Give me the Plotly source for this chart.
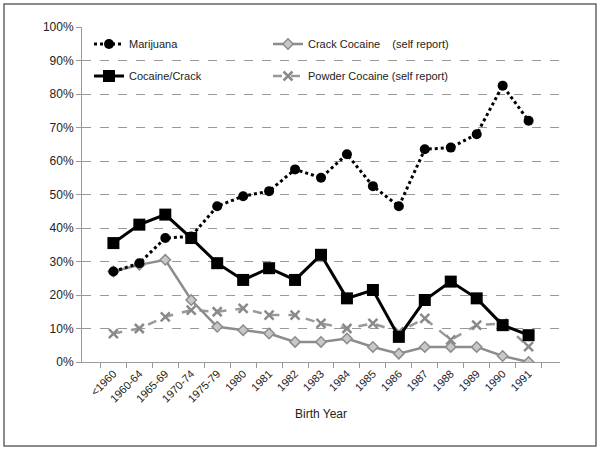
import plotly.graph_objects as go

categories = ["<1960", "1960-64", "1965-69", "1970-74", "1975-79", "1980", "1981", "1982",
              "1983", "1984", "1985", "1986", "1987", "1988", "1989", "1990", "1991"]
marijuana = [27, 29.5, 37, 37.5, 46.5, 49.5, 51, 57.5, 55, 62, 52.5, 46.5, 63.5, 64, 68, 82.5, 72]
cocaine_crack = [35.5, 41, 44, 37, 29.5, 24.5, 28, 24.5, 32, 19, 21.5, 7.5, 18.5, 24, 19, 11, 8]
crack_self = [27, 29, 30.5, 18.5, 10.5, 9.5, 8.5, 6, 6, 7, 4.5, 2.5, 4.5, 4.5, 4.5, 1.8, 0]
powder_self = [8.5, 10, 13.5, 15.5, 15, 16, 14, 14, 11.5, 10, 11.5, 9, 13, 6.6, 11, 11.5, 4.6]
y_ticks = [0, 10, 20, 30, 40, 50, 60, 70, 80, 90, 100]
y_labels = [f"{v}%" for v in y_ticks]

fig = go.Figure()
fig.add_trace(go.Scatter(
    x=categories, y=powder_self, name="Powder Cocaine (self report)", mode="lines+markers",
    line=dict(color="#999999", width=2.5, dash="dash"),
    marker=dict(symbol="x-thin", size=9, line=dict(color="#8a8a8a", width=2.5)), legend="legend4"))
fig.add_trace(go.Scatter(
    x=categories, y=crack_self, name="Crack Cocaine\u00a0\u00a0\u00a0\u00a0(self report)", mode="lines+markers",
    line=dict(color="#8c8c8c", width=2.5),
    marker=dict(symbol="diamond", size=8, color="#c8c8c8", line=dict(color="#8c8c8c", width=1.5)),
    legend="legend3"))
fig.add_trace(go.Scatter(
    x=categories, y=marijuana, name="Marijuana", mode="lines+markers",
    line=dict(color="black", width=3, dash="dot"),
    marker=dict(symbol="circle", size=10, color="black"), legend="legend"))
fig.add_trace(go.Scatter(
    x=categories, y=cocaine_crack, name="Cocaine/Crack", mode="lines+markers",
    line=dict(color="black", width=3),
    marker=dict(symbol="square", size=12, color="black"), legend="legend2"))

leg_common = dict(xanchor="left", yanchor="middle", bgcolor="rgba(0,0,0,0)",
                  font=dict(size=11), itemwidth=30)
x1 = (89 - 82) / 478
x2 = (268 - 82) / 478
yr1 = (362 - 44) / 335
yr2 = (362 - 76) / 335

fig.update_layout(
    width=604, height=452,
    margin=dict(l=82, r=44, t=27, b=90),
    paper_bgcolor="white", plot_bgcolor="white",
    font=dict(family="Liberation Sans, Arial, sans-serif", size=12, color="#222222"),
    showlegend=True,
    legend=dict(x=x1, y=yr1, **leg_common),
    legend2=dict(x=x1, y=yr2, **leg_common),
    legend3=dict(x=x2, y=yr1, **leg_common),
    legend4=dict(x=x2, y=yr2, **leg_common),
    xaxis=dict(
        type="category", tickangle=-45, tickson="boundaries", ticks="outside",
        ticklen=5, tickcolor="#999999", showline=True, linecolor="#999999", linewidth=1,
        showgrid=False, tickfont=dict(size=11),
        title=dict(text="Birth Year", font=dict(size=12), standoff=6)),
    yaxis=dict(
        range=[0, 100], tickvals=y_ticks, ticktext=y_labels, ticks="outside",
        ticklen=5, tickcolor="#999999", showline=True, linecolor="#999999", linewidth=1,
        showgrid=True, gridcolor="#999999", griddash="dash", gridwidth=1,
        zeroline=False, tickfont=dict(size=12)),
    shapes=[dict(type="rect", xref="paper", yref="paper",
                 x0=(4 - 82) / 478, x1=(596 - 82) / 478,
                 y0=(362 - 446) / 335, y1=(362 - 4) / 335,
                 line=dict(color="#666666", width=1.5), layer="below")],
)

fig.write_html("out.html", config={"displayModeBar": False},
               post_script="document.body.style.margin='0';document.body.style.overflow='hidden';")
